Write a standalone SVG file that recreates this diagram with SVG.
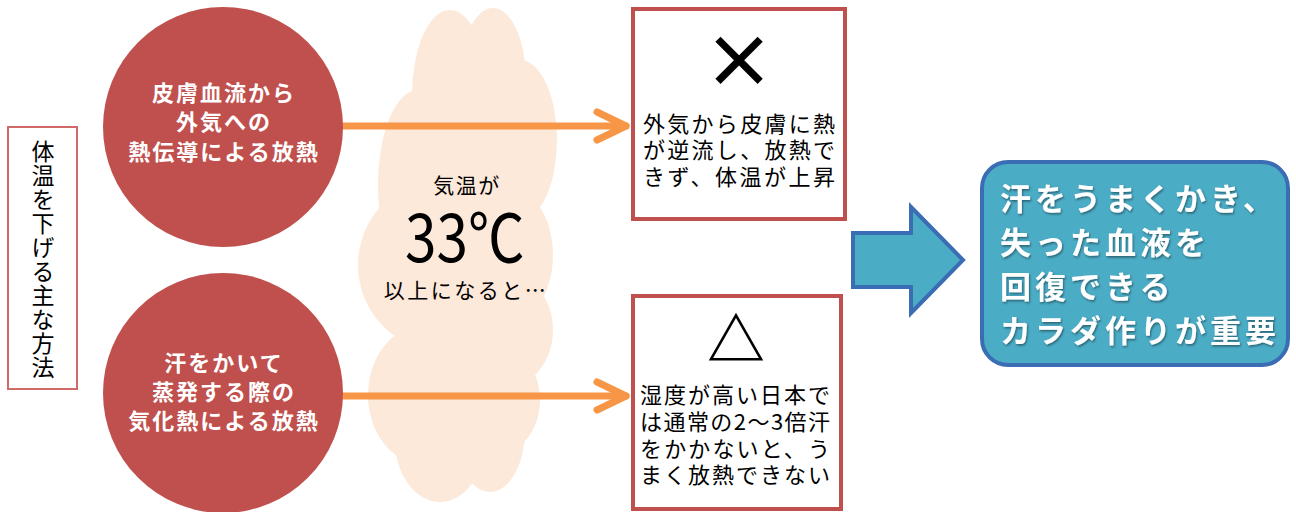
<svg xmlns="http://www.w3.org/2000/svg" width="1296" height="512" viewBox="0 0 1296 512">
<style>
.jp{font-family:"Noto Sans CJK JP","Liberation Sans",sans-serif}
.circ{fill:#C0504D}
.ctext{font-family:"Noto Sans CJK JP",sans-serif;font-weight:bold;font-size:22px;fill:#fff;letter-spacing:2px;text-anchor:middle}
.box{fill:#fff;stroke:#C0504D;stroke-width:4}
.btext{font-family:"Noto Sans CJK JP",sans-serif;font-size:22px;fill:#000}
.conn{stroke:#F79646;stroke-width:7;fill:none;stroke-linecap:round}
.cloud ellipse{fill:#FCE9DA}
.blue{fill:#4BACC6;stroke:#3A6DB4;stroke-width:4}
.wtext{font-family:"Noto Sans CJK JP",sans-serif;font-weight:bold;font-size:31px;fill:#fff;letter-spacing:4px}
</style>
<defs>
<marker id="chev" markerUnits="userSpaceOnUse" markerWidth="40" markerHeight="40" refX="0" refY="0" viewBox="-34 -20 40 40" orient="auto" overflow="visible">
<path d="M-29,-14 L0,0 L-29,14" fill="none" stroke="#F79646" stroke-width="7" stroke-linecap="round" stroke-linejoin="round"/>
</marker>
<filter id="sh" x="-5%" y="-5%" width="110%" height="120%">
<feDropShadow dx="1" dy="1.5" stdDeviation="1" flood-color="#000" flood-opacity="0.45"/>
</filter>
</defs>

<g id="cloud" class="cloud">
<ellipse cx="450" cy="95" rx="38" ry="85"/>
<ellipse cx="493" cy="80" rx="33" ry="72"/>
<ellipse cx="520" cy="140" rx="37" ry="80"/>
<ellipse cx="418" cy="185" rx="40" ry="95"/>
<ellipse cx="440" cy="265" rx="82" ry="85"/>
<ellipse cx="505" cy="255" rx="48" ry="70"/>
<ellipse cx="500" cy="330" rx="53" ry="60"/>
<ellipse cx="465" cy="250" rx="60" ry="170"/>
<ellipse cx="425" cy="395" rx="57" ry="70"/>
<ellipse cx="495" cy="400" rx="45" ry="55"/>
<ellipse cx="440" cy="440" rx="45" ry="62"/>
<ellipse cx="490" cy="430" rx="35" ry="62"/>
<ellipse cx="465" cy="390" rx="60" ry="60"/>
<text class="jp" x="467" y="193" font-size="21" letter-spacing="1.5" text-anchor="middle">気温が</text>
<text transform="translate(465,262) scale(0.86,1)" x="0" y="0" font-family="Noto Sans CJK JP,sans-serif" font-size="66" text-anchor="middle">33℃</text>
<text class="jp" x="466" y="298" font-size="21" letter-spacing="2.5" text-anchor="middle">以上になると…</text>
</g>

<g id="connectors">
<line class="conn" x1="330" y1="126" x2="626" y2="126" marker-end="url(#chev)"/>
<line class="conn" x1="330" y1="396" x2="626" y2="396" marker-end="url(#chev)"/>
</g>

<g id="label-left">
<rect x="8" y="127" width="69" height="262" fill="#fff" stroke="#D06A68" stroke-width="2"/>
<text class="jp" x="43" y="140" font-size="23" writing-mode="vertical-rl" letter-spacing="1" fill="#000">体温を下げる主な方法</text>
</g>

<g id="circle-1">
<circle class="circ" cx="223" cy="127" r="120"/>
<text class="ctext" x="224" y="101">皮膚血流から</text>
<text class="ctext" x="224" y="130">外気への</text>
<text class="ctext" x="224" y="160">熱伝導による放熱</text>
</g>

<g id="circle-2">
<circle class="circ" cx="223" cy="393" r="120"/>
<text class="ctext" x="224" y="371">汗をかいて</text>
<text class="ctext" x="224" y="400">蒸発する際の</text>
<text class="ctext" x="224" y="429">気化熱による放熱</text>
</g>

<g id="box-top">
<rect class="box" x="633" y="9" width="212" height="210"/>
<text class="jp" x="739" y="87" font-size="72" font-weight="bold" text-anchor="middle">×</text>
<text class="btext" x="643" y="132" textLength="192" lengthAdjust="spacing">外気から皮膚に熱</text>
<text class="btext" x="643" y="158" textLength="192" lengthAdjust="spacing">が逆流し、放熱で</text>
<text class="btext" x="643" y="185" textLength="192" lengthAdjust="spacing">きず、体温が上昇</text>
</g>

<g id="box-bottom">
<rect class="box" x="633" y="296" width="208" height="213"/>
<text class="jp" x="736" y="361" font-size="58" font-weight="bold" text-anchor="middle">△</text>
<text class="btext" x="640" y="403" textLength="190" lengthAdjust="spacing">湿度が高い日本で</text>
<text class="btext" x="640" y="430" textLength="190" lengthAdjust="spacing">は通常の2〜3倍汗</text>
<text class="btext" x="640" y="457" textLength="190" lengthAdjust="spacing">をかかないと、う</text>
<text class="btext" x="640" y="483" textLength="190" lengthAdjust="spacing">まく放熱できない</text>
</g>

<g id="big-arrow">
<polygon class="blue" stroke-width="3" points="853,233 911,233 911,207 963,260 911,313 911,287 853,287"/>
</g>

<g id="result">
<rect class="blue" x="982" y="162" width="306" height="203" rx="26"/>
<g filter="url(#sh)">
<text class="wtext" x="1000" y="210">汗をうまくかき、</text>
<text class="wtext" x="1000" y="254">失った血液を</text>
<text class="wtext" x="1000" y="298">回復できる</text>
<text class="wtext" x="1000" y="342">カラダ作りが重要</text>
</g>
</g>
</svg>
